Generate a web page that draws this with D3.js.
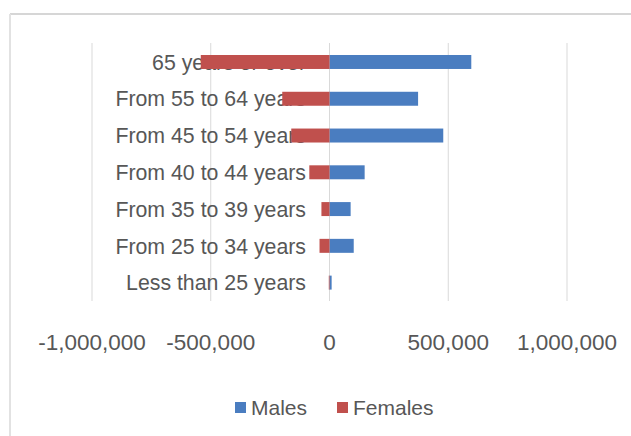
<!DOCTYPE html>
<html>
<head>
<meta charset="utf-8">
<script src="https://cdn.jsdelivr.net/npm/d3@7"></script>
<style>
  html, body { margin: 0; padding: 0; background: #fff; }
  svg { display: block; }
  text { font-family: "Liberation Sans", Arial, sans-serif; fill: #575757; }
</style>
</head>
<body>
<svg id="chart" width="631" height="436"></svg>
<script>
const categories = ["65 years or over", "From 55 to 64 years", "From 45 to 54 years", "From 40 to 44 years", "From 35 to 39 years", "From 25 to 34 years", "Less than 25 years"];
const males = [597000, 373000, 479000, 148000, 89000, 102000, 9000];
const females = [-542000, -199000, -161000, -85000, -34000, -42000, -3000];
const tickValues = [-1000000, -500000, 0, 500000, 1000000];
const seriesNames = ["Males", "Females"];
const colors = ["#4a7dc0", "#c0504d"];

const svg = d3.select("#chart");

// chart frame (top and left edges)
svg.append("line").attr("x1", 10).attr("x2", 631).attr("y1", 14).attr("y2", 14)
  .attr("stroke", "#d6d6d6").attr("stroke-width", 2);
svg.append("line").attr("x1", 10).attr("x2", 10).attr("y1", 14).attr("y2", 436)
  .attr("stroke", "#e2e2e2").attr("stroke-width", 2);

const x = d3.scaleLinear().domain([-1000000, 1000000]).range([92, 567]);
const y = d3.scaleBand().domain(categories).range([43.6, 301]).paddingInner(0.62).paddingOuter(0.31);

// gridlines
svg.append("g").selectAll("line").data(tickValues).join("line")
  .attr("x1", d => x(d)).attr("x2", d => x(d))
  .attr("y1", 43).attr("y2", 301)
  .attr("stroke", "#d9d9d9").attr("stroke-width", 1);

// category labels (drawn under bars)
svg.append("g").selectAll("text").data(categories).join("text")
  .attr("x", 306).attr("y", d => y(d) + y.bandwidth() / 2)
  .attr("dy", "0.36em").attr("text-anchor", "end")
  .style("font-size", "21.3px")
  .text(d => d);

// bars
const rows = categories.map((c, i) => ({ c, m: males[i], f: females[i] }));
svg.append("g").selectAll("rect").data(rows).join("rect")
  .attr("x", d => x(0)).attr("y", d => y(d.c))
  .attr("width", d => x(d.m) - x(0)).attr("height", y.bandwidth())
  .attr("fill", colors[0]);
svg.append("g").selectAll("rect").data(rows).join("rect")
  .attr("x", d => x(d.f)).attr("y", d => y(d.c))
  .attr("width", d => x(0) - x(d.f)).attr("height", y.bandwidth())
  .attr("fill", colors[1]);

// x axis tick labels
const fmt = d3.format(",");
svg.append("g").selectAll("text").data(tickValues).join("text")
  .attr("x", d => x(d)).attr("y", 342).attr("dy", "0.36em")
  .attr("text-anchor", "middle")
  .style("font-size", "22.5px")
  .text(d => d < 0 ? "-" + fmt(-d) : fmt(d));

// legend
const legendX = [235, 337];
const lg = svg.append("g").selectAll("g").data(seriesNames).join("g")
  .attr("transform", (d, i) => `translate(${legendX[i]},402)`);
lg.append("rect").attr("width", 11).attr("height", 11).attr("fill", (d, i) => colors[i]);
lg.append("text").attr("x", 16).attr("y", 5.5).attr("dy", "0.36em")
  .style("font-size", "21px").text(d => d);
</script>
</body>
</html>
